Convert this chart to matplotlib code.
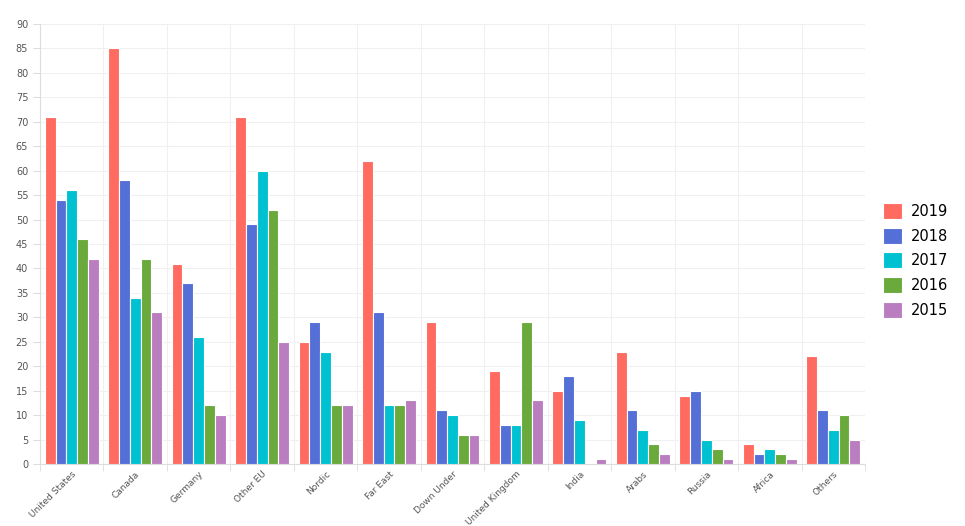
import numpy as np
import matplotlib
matplotlib.use("Agg")
import matplotlib.pyplot as plt
import matplotlib.transforms as mtrans

regions = ["United States", "Canada", "Germany", "Other EU", "Nordic", "Far East", "Down Under",
           "United Kingdom", "India", "Arabs", "Russia", "Africa", "Others"]
years = ["2019", "2018", "2017", "2016", "2015"]
v2019 = [71, 85, 41, 71, 25, 62, 29, 19, 15, 23, 14, 4, 22]
v2018 = [54, 58, 37, 49, 29, 31, 11, 8, 18, 11, 15, 2, 11]
v2017 = [56, 34, 26, 60, 23, 12, 10, 8, 9, 7, 5, 3, 7]
v2016 = [46, 42, 12, 52, 12, 12, 6, 29, 0.2, 4, 3, 2, 10]
v2015 = [42, 31, 10, 25, 12, 13, 6, 13, 1, 2, 1, 1, 5]
series = [v2019, v2018, v2017, v2016, v2015]
colors = ["#FF6B61", "#5470D6", "#00C1D1", "#6AAA3C", "#BA7EC0"]

fig = plt.figure(figsize=(9.65, 5.26), dpi=100)
ax = fig.add_axes([40 / 965, 62 / 526, 825 / 965, 440 / 526])
x = np.arange(len(regions))
w = 0.17
for i, (vals, c, y) in enumerate(zip(series, colors, years)):
    ax.bar(x + (i - 2) * w, vals, w, color=c, edgecolor="white", linewidth=0.8, label=y, zorder=3)

ax.set_xlim(-0.5, len(regions) - 0.5)
ax.set_ylim(0, 90)
ax.set_yticks(range(0, 91, 5))
ax.set_xticks(x)
ax.set_xticklabels(regions, rotation=45, ha="right", rotation_mode="anchor", fontsize=6.5, color="#555555")
shift = mtrans.ScaledTranslation(-8 / 100, 0, fig.dpi_scale_trans)
for lbl in ax.get_xticklabels():
    lbl.set_transform(lbl.get_transform() + shift)
ax.tick_params(axis="y", labelsize=7, colors="#555555", length=5, color="#dddddd")
ax.tick_params(axis="x", length=0, pad=4)
ax.set_xticks(np.arange(-0.5, len(regions)), minor=True)
ax.tick_params(axis="x", which="minor", length=5, color="#dddddd")
ax.grid(axis="y", color="#f0f0f0", lw=0.8, zorder=0)
ax.grid(axis="x", which="minor", color="#f0f0f0", lw=0.8, zorder=0)
for s in ["top", "right"]:
    ax.spines[s].set_visible(False)
for s in ["left", "bottom"]:
    ax.spines[s].set_color("#dddddd")

fig.legend(loc="center left", bbox_to_anchor=(870 / 965, 0.505), frameon=False, fontsize=10.5,
           handlelength=1.3, handleheight=1.3, handletextpad=0.6, labelspacing=0.6)
fig.savefig("out.png", dpi=100)
